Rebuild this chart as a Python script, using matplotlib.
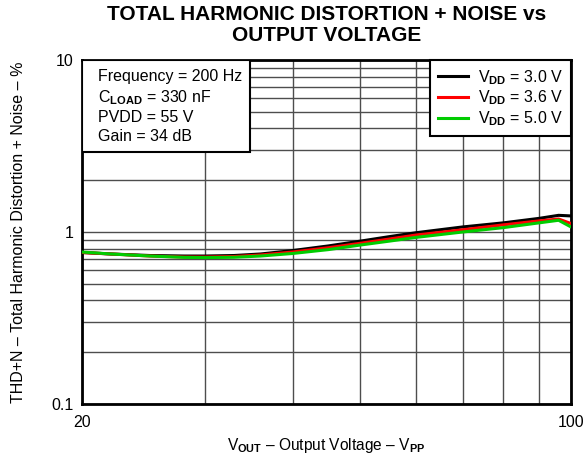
import matplotlib.pyplot as plt
from matplotlib.ticker import FixedLocator, NullFormatter

plt.rcParams['font.family'] = ['Liberation Sans', 'DejaVu Sans']
plt.rcParams['mathtext.fontset'] = 'custom'
plt.rcParams['mathtext.rm'] = 'Liberation Sans'
plt.rcParams['mathtext.bf'] = 'Liberation Sans:bold'

# output voltage (Vpp)
vout = [20, 22, 25, 28, 30, 33, 36, 40, 45, 50, 55, 60, 70, 80, 90, 96, 100]
# THD+N (%)
thd_30 = [0.76, 0.745, 0.73, 0.725, 0.725, 0.73, 0.745, 0.78, 0.83, 0.885,
          0.94, 0.99, 1.07, 1.13, 1.20, 1.25, 1.24]
thd_36 = [0.76, 0.745, 0.725, 0.715, 0.715, 0.72, 0.735, 0.765, 0.81, 0.86,
          0.91, 0.96, 1.03, 1.10, 1.16, 1.19, 1.12]
thd_50 = [0.765, 0.745, 0.725, 0.712, 0.71, 0.713, 0.725, 0.75, 0.79, 0.84,
          0.885, 0.93, 1.0, 1.06, 1.13, 1.17, 1.07]

fig = plt.figure(figsize=(5.86, 4.59), dpi=100)
ax = fig.add_axes([82 / 586, 1 - 404 / 459, 489 / 586, 344 / 459])

ax.plot(vout, thd_30, color='black', lw=2.2, label=r'V$_{\mathbf{DD}}$ = 3.0 V', zorder=3)
ax.plot(vout, thd_36, color='#ff0000', lw=2.2, label=r'V$_{\mathbf{DD}}$ = 3.6 V', zorder=4)
ax.plot(vout, thd_50, color='#00cc00', lw=2.2, label=r'V$_{\mathbf{DD}}$ = 5.0 V', zorder=5)

ax.set_xscale('log')
ax.set_yscale('log')
ax.set_xlim(20, 100)
ax.set_ylim(0.1, 10)

ax.xaxis.set_major_locator(FixedLocator([20, 100]))
ax.xaxis.set_minor_locator(FixedLocator([30, 40, 50, 60, 70, 80, 90]))
ax.set_xticklabels(['20', '100'])
ax.xaxis.set_minor_formatter(NullFormatter())
ax.yaxis.set_major_locator(FixedLocator([0.1, 1, 10]))
ax.set_yticklabels(['0.1', '1', '10'])
ax.yaxis.set_minor_locator(FixedLocator([k * d for d in (0.1, 1) for k in range(2, 10)]))
ax.yaxis.set_minor_formatter(NullFormatter())

ax.tick_params(which='both', length=0, labelsize=11.5)
ax.tick_params(axis='x', pad=8)
ax.tick_params(axis='y', pad=6)
ax.grid(True, which='both', color='0.3', lw=1.0)

for s in ax.spines.values():
    s.set_linewidth(2)

ax.set_ylabel('THD+N – Total Harmonic Distortion + Noise – %', fontsize=11.5, labelpad=18)
ax.set_xlabel(r'V$_{\mathbf{OUT}}$ – Output Voltage – V$_{\mathbf{PP}}$', fontsize=11.2, labelpad=4)
ax.set_title('TOTAL HARMONIC DISTORTION + NOISE vs\nOUTPUT VOLTAGE',
             fontsize=15, fontweight='bold', linespacing=1.1, pad=14)

leg = ax.legend(loc='upper right', fontsize=11.5, frameon=True, fancybox=False,
                borderaxespad=0, handlelength=1.9, labelspacing=0.12,
                borderpad=0.5, handletextpad=0.6)
leg.get_frame().set_edgecolor('black')
leg.get_frame().set_linewidth(1.5)
leg.get_frame().set_alpha(1)

ax.text(0.033, 0.975,
        'Frequency = 200 Hz\nC$_{\\mathbf{LOAD}}$ = 330 nF\nPVDD = 55 V\nGain = 34 dB',
        transform=ax.transAxes, fontsize=11.5, va='top', ha='left', linespacing=1.3,
        zorder=6)
box = plt.Rectangle((0, 1 - 92 / 344), 168 / 489, 92 / 344, transform=ax.transAxes,
                    facecolor='white', edgecolor='black', lw=1.5, zorder=5)
ax.add_patch(box)

fig.savefig('out.png', dpi=100)
